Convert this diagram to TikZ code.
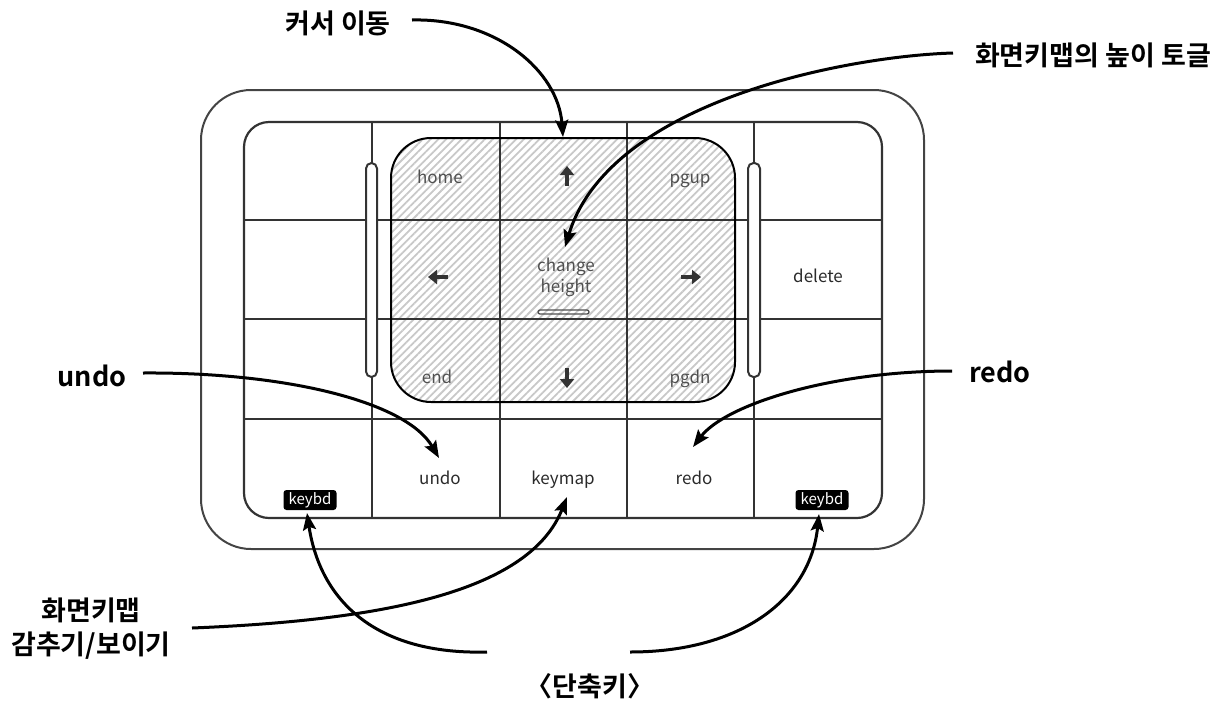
\documentclass[tikz,border=0pt]{standalone}
\usepackage{fontspec}
\setmainfont{Noto Sans CJK KR}[BoldFont={Noto Sans CJK KR Bold}]
\usetikzlibrary{arrows.meta,patterns.meta}
\definecolor{gridc}{HTML}{333333}
\definecolor{framec}{HTML}{444444}
\definecolor{txtc}{HTML}{2A2A2A}
\definecolor{htxtc}{HTML}{505050}
\definecolor{hatchc}{HTML}{C8C8C8}
\begin{document}
\begin{tikzpicture}[x=1pt,y=-1pt,
  frame/.style={draw=framec,line width=2pt},
  gridline/.style={draw=gridc,line width=2.6pt},
  keybase/.style={font=\fontsize{17}{21}\selectfont,text=txtc,inner sep=0pt,align=center},
  keytxt/.style={keybase,text height=14pt,text depth=2pt},
  hatchtxt/.style={keytxt,text=htxtc},
  callout/.style={font=\fontsize{27}{34}\selectfont\bfseries,inner sep=0pt,align=center},
  conn/.style={line width=3pt,-{Stealth[length=17pt,width=13pt,inset=3pt]}},
  badge/.style={fill=black,rounded corners=3pt,text=white,font=\fontsize{15}{17}\selectfont,inner sep=0pt,minimum width=53pt,minimum height=20pt,text height=11pt,text depth=3pt},
  icon/.style={draw=gridc,line width=3.5pt,-{Triangle[length=9pt,width=14pt]}},
  pill/.style={draw=gridc,fill=white,line width=2pt,rounded corners=5.5pt}
]
\useasboundingbox (0,0) rectangle (1231,702);
% outer frame
\draw[frame,rounded corners=50pt] (201,90) rectangle (924,549);
% hatched area fill
\fill[pattern={Lines[angle=45,distance=5.5pt,line width=1.8pt]},pattern color=hatchc,rounded corners=40pt] (391,138) rectangle (735,402);
% inner frame
\draw[gridline,line width=2.2pt,rounded corners=25pt] (244,122) rectangle (882,518);
% grid
\draw[gridline] (244,220) -- (882,220);
\draw[gridline] (244,319) -- (882,319);
\draw[gridline] (244,419) -- (882,419);
\draw[gridline] (372,122) -- (372,518);
\draw[gridline] (500,122) -- (500,518);
\draw[gridline] (627,122) -- (627,518);
\draw[gridline] (754,122) -- (754,518);
% sliders
\draw[pill] (366,163) rectangle (377,377);
\draw[pill] (748,163) rectangle (760,377);
% hatched area border
\draw[black,line width=2pt,rounded corners=40pt] (391,138) rectangle (735,402);
% key labels
\node[hatchtxt] (khome) at (440,177) {home};
\node[hatchtxt] (kpgup) at (690,177) {pgup};
\node[keybase,text=htxtc] (kchg) at (566,277) {change\\height};
\draw[draw=htxtc,line width=1.3pt,rounded corners=2pt] (538,310) rectangle (589,314);
\node[hatchtxt] (kend) at (437,377) {end};
\node[hatchtxt] (kpgdn) at (690,377) {pgdn};
\node[keytxt] (kdel) at (818,276) {delete};
\node[keytxt] (kundo) at (440,478) {undo};
\node[keytxt] (kmap) at (563,478) {keymap};
\node[keytxt] (kredo) at (694,478) {redo};
\node[badge] (kbl) at (310,500) {keybd};
\node[badge] (kbr) at (822,500) {keybd};
% arrow icons
\draw[icon] (567,186) -- (567,166);
\draw[icon] (567,368) -- (567,388);
\draw[icon] (448,277) -- (428,277);
\draw[icon] (681,277) -- (701,277);
% callouts
\node[callout] (lcur) at (338,23) {커서 이동};
\node[callout] (lhgt) at (1093,55) {화면키맵의 높이 토글};
\node[callout] (lundo) at (92,376) {undo};
\node[callout] (lredo) at (1000,372) {redo};
\node[callout] (lhide) at (91,629) {화면키맵\\감추기/보이기};
\node[callout] (lshort) at (590,686) {〈단축키〉};
% connector ends
\coordinate (cur-s) at (412,20);
\coordinate (cur-t) at (563,137);
\coordinate (hgt-s) at (953,53);
\coordinate (hgt-t) at (565,247);
\coordinate (undo-s) at (143,373);
\coordinate (undo-t) at (439,458);
\coordinate (redo-s) at (952,371);
\coordinate (redo-t) at (693,447);
\coordinate (hide-s) at (192,628);
\coordinate (hide-t) at (567,497);
\coordinate (shl-s) at (487,652);
\coordinate (shl-t) at (307,513);
\coordinate (shr-s) at (630,652);
\coordinate (shr-t) at (819,514);
% connectors
\draw[conn] (cur-s) .. controls (495,18) and (558,70) .. (cur-t);
\draw[conn] (hgt-s) .. controls (850,56) and (610,100) .. (hgt-t);
\draw[conn] (undo-s) .. controls (280,372) and (405,400) .. (undo-t);
\draw[conn] (redo-s) .. controls (830,371) and (725,405) .. (redo-t);
\draw[conn] (hide-s) .. controls (390,620) and (530,590) .. (hide-t);
\draw[conn] (shl-s) .. controls (375,655) and (320,600) .. (shl-t);
\draw[conn] (shr-s) .. controls (740,652) and (810,600) .. (shr-t);
\end{tikzpicture}
\end{document}
